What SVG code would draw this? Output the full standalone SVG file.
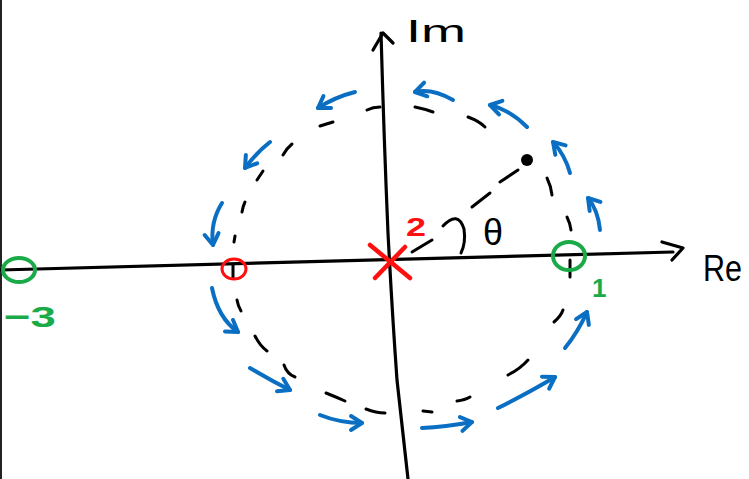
<svg xmlns="http://www.w3.org/2000/svg" width="749" height="479" viewBox="0 0 749 479">
<style>
.ax{stroke:#000;stroke-width:3.2;fill:none;stroke-linecap:round;stroke-linejoin:round}
.d{stroke:#000;stroke-width:3;fill:none;stroke-linecap:round}
.b{stroke:#0a6fc2;stroke-width:4;fill:none;stroke-linecap:round;marker-end:url(#ah)}
.g{stroke:#1aaa47;stroke-width:4;fill:none}
.r{stroke:#ff1010;fill:none;stroke-linecap:round}
.t{font-family:"Liberation Sans","DejaVu Sans",sans-serif}
</style>
<defs>
<marker id="ah" markerUnits="userSpaceOnUse" viewBox="-14 -10 18 20" markerWidth="18" markerHeight="20" refX="0" refY="0" orient="auto" overflow="visible">
<path d="M-11,-7 L0,0 L-11,7" stroke="#0a6fc2" stroke-width="4" fill="none" stroke-linecap="round" stroke-linejoin="round"/>
</marker>
</defs>
<rect width="749" height="479" fill="#fff"/>
<line x1="1" y1="0" x2="1" y2="479" stroke="#222" stroke-width="2"/>
<g id="axes">
<path class="ax" d="M0,270 L673,252"/>
<path class="ax" d="M662,242 L683,248 L672,260"/>
<path class="ax" d="M381,33 Q384,140 388,233 Q392,310 397,380 L408,479"/>
<path class="ax" d="M373,50 L383,33 L393,43"/>
<text class="t" x="406" y="42" font-size="32" textLength="60" lengthAdjust="spacingAndGlyphs">Im</text>
<text class="t" x="703" y="281" font-size="36" textLength="39" lengthAdjust="spacingAndGlyphs">Re</text>
<path class="d" d="M570,260 L570,277"/>
<path class="d" d="M233,265 L233,278"/>
</g>
<g id="circle">
<path class="d" d="M367,110 Q373,107 380,107"/>
<path class="d" d="M415,107 Q425,109 433,112"/>
<path class="d" d="M468,117 Q479,121 485,127"/>
<path class="d" d="M547,178 Q551,186 552,195"/>
<path class="d" d="M567,217 Q570,223 571,230"/>
<path class="d" d="M320,126 L333,122"/>
<path class="d" d="M283,155 Q287,148 292,144"/>
<path class="d" d="M257,180 L263,171"/>
<path class="d" d="M242,212 Q243,206 245,202"/>
<path class="d" d="M234,242 L235,236"/>
<path class="d" d="M237,300 Q238,306 241,311"/>
<path class="d" d="M255,336 Q260,346 267,351"/>
<path class="d" d="M284,365 Q287,374 295,377"/>
<path class="d" d="M326,393 Q336,397 345,401"/>
<path class="d" d="M366,409 Q376,413 385,413"/>
<path class="d" d="M423,411 L432,412"/>
<path class="d" d="M457,401 Q465,400 470,397"/>
<path class="d" d="M508,375 Q520,369 528,360"/>
<path class="d" d="M554,322 Q561,316 563,310"/>
</g>
<g id="connectors">
<path class="b" d="M355,92 Q335,97 318,108"/>
<path class="b" d="M453,100 Q432,88 415,92"/>
<path class="b" d="M527,127 Q510,110 490,105"/>
<path class="b" d="M570,173 Q565,155 553,142"/>
<path class="b" d="M270,142 Q256,153 245,168"/>
<path class="b" d="M222,203 Q210,222 213,245"/>
<path class="b" d="M212,288 Q218,318 238,332"/>
<path class="b" d="M250,368 Q270,380 290,390"/>
<path class="b" d="M320,415 Q340,423 362,423"/>
<path class="b" d="M422,428 Q445,427 472,422"/>
<path class="b" d="M498,408 Q530,392 555,377"/>
<path class="b" d="M565,348 Q578,332 587,312"/>
<path class="b" d="M600,230 Q598,210 588,198"/>
</g>
<g id="radius">
<path class="d" d="M412,252 L432,240"/>
<path class="d" d="M472,207 L490,193"/>
<path class="d" d="M500,182 L518,170"/>
<circle cx="527" cy="160" r="6" fill="#000"/>
<path class="d" d="M443,226 Q458,210 464,229 Q466,243 461,253"/>
<text class="t" x="483" y="245" font-size="36">θ</text>
</g>
<g id="pole">
<path class="r" stroke-width="4.5" d="M370,245 L410,278 M405,247 L375,278"/>
<text class="t" x="406" y="236" font-size="25" font-weight="bold" fill="#ff1010" textLength="20" lengthAdjust="spacingAndGlyphs">2</text>
</g>
<g id="zero-m1">
<ellipse class="r" stroke-width="3" cx="234" cy="269" rx="12" ry="10"/>
</g>
<g id="zero-1">
<ellipse class="g" cx="569" cy="256" rx="16" ry="14"/>
<text class="t" x="592" y="297" font-size="26" font-weight="bold" fill="#1aaa47">1</text>
</g>
<g id="zero-m3">
<ellipse class="g" cx="19" cy="270" rx="16" ry="12"/>
<text class="t" x="4" y="327" font-size="30" font-weight="bold" fill="#1aaa47" textLength="52" lengthAdjust="spacingAndGlyphs">−3</text>
</g>
</svg>
